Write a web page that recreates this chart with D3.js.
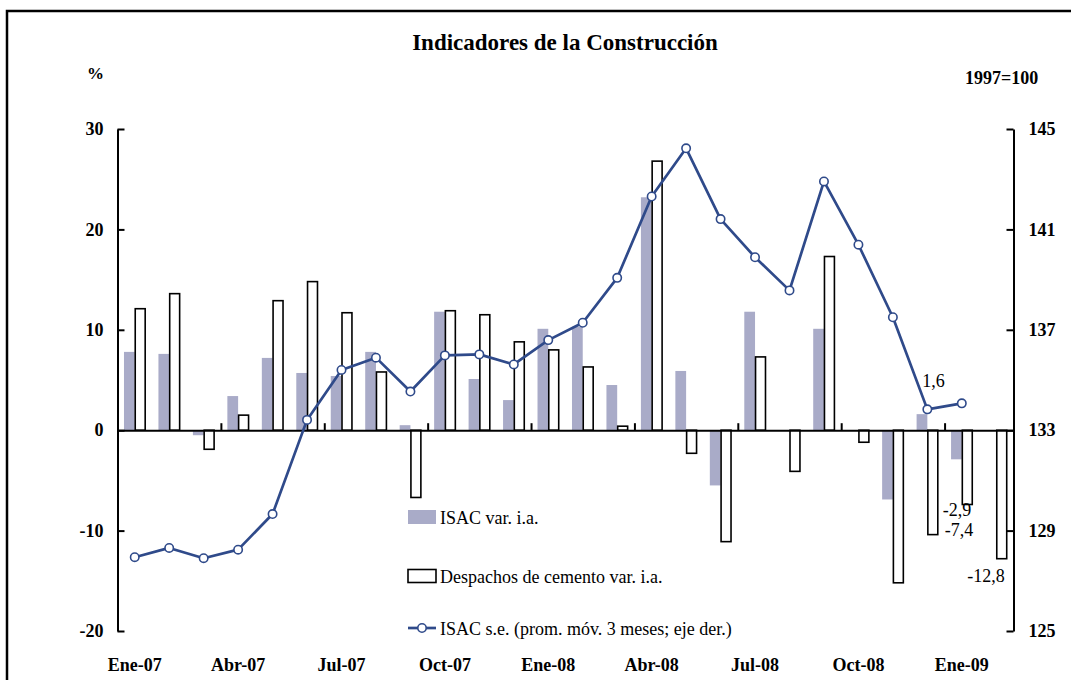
<!DOCTYPE html>
<html>
<head>
<meta charset="utf-8">
<script src="https://cdn.jsdelivr.net/npm/d3@7"></script>
<style>
  body { margin: 0; background: #fff; }
  svg { display: block; font-family: "Liberation Serif", "Times New Roman", serif; }
</style>
</head>
<body>
<div id="chart"></div>
<script>
// Indicadores de la Construcción
let months = ["Ene-07", "Feb-07", "Mar-07", "Abr-07", "May-07", "Jun-07", "Jul-07", "Ago-07", "Sep-07",
    "Oct-07", "Nov-07", "Dic-07", "Ene-08", "Feb-08", "Mar-08", "Abr-08", "May-08", "Jun-08",
    "Jul-08", "Ago-08", "Sep-08", "Oct-08", "Nov-08", "Dic-08", "Ene-09", "Feb-09"];

// ISAC var. i.a. (%)
let isacVar = [7.8, 7.6, -0.5, 3.4, 7.2, 5.7, 5.4, 7.8, 0.5, 11.8, 5.1, 3.0, 10.1, 10.3, 4.5, 23.2, 5.9,
    -5.5, 11.8, 0, 10.1, 0, -6.9, 1.6, -2.9, null];

// Despachos de cemento var. i.a. (%)
let cementoVar = [12.1, 13.6, -1.9, 1.5, 12.9, 14.8, 11.7, 5.8, -6.7, 11.9, 11.5, 8.8, 8.0, 6.3, 0.4, 26.8,
    -2.3, -11.1, 7.3, -4.1, 17.3, -1.2, -15.2, -10.4, -7.4, -12.8];

// ISAC s.e. prom. móv. 3 meses (1997=100, eje der.)
let isacSe = [127.94, 128.31, 127.90, 128.24, 129.66, 133.41, 135.40, 135.89, 134.54, 135.98, 136.02,
    135.62, 136.59, 137.28, 139.07, 142.31, 144.23, 141.41, 139.89, 138.57, 142.91, 140.39, 137.50,
    133.83, 134.07, null];

let leftTicks = [-20, -10, 0, 10, 20, 30];
let rightTicks = [125, 129, 133, 137, 141, 145];
let xLabels = ["Ene-07", "Abr-07", "Jul-07", "Oct-07", "Ene-08", "Abr-08", "Jul-08", "Oct-08", "Ene-09"];

let legendItems = ["ISAC var. i.a.", "Despachos de cemento var. i.a.", "ISAC s.e. (prom. móv. 3 meses; eje der.)"];

let grayColor = "#a9abc8";
let lineColor = "#2f4a8a";

let width = 1071, height = 680;
let svg = d3.select("#chart").append("svg")
    .attr("width", width)
    .attr("height", height);

// frame
svg.append("rect")
    .attr("x", 7).attr("y", 11)
    .attr("width", 1100).attr("height", 720)
    .attr("fill", "none")
    .attr("stroke", "#000")
    .attr("stroke-width", 2.5);

let plotLeft = 117.5, plotRight = 1013.5, plotTop = 129, plotBottom = 631;

let x = d3.scaleBand().domain(months).range([plotLeft, plotRight]).padding(0);
let bw = x.bandwidth();
let barW = 10.75;
let off = (bw - 2 * barW) / 2;
let xIdx = d3.scaleLinear().domain([0, months.length]).range([plotLeft, plotRight]);

let y0 = d3.scaleLinear().domain([-20, 30]).range([plotBottom, plotTop]);
let y1 = d3.scaleLinear().domain([125, 145]).range([plotBottom, plotTop]);

// hyphen instead of unicode minus, comma decimals
let intFmt = v => String(v);
let fmt = v => v.toFixed(1).replace(".", ",");

// title and units
svg.append("text")
    .attr("x", 565).attr("y", 50)
    .attr("text-anchor", "middle")
    .style("font-size", "23px").style("font-weight", "bold")
    .text("Indicadores de la Construcción");

svg.append("text")
    .attr("x", 87).attr("y", 79)
    .style("font-size", "17px").style("font-weight", "bold")
    .text("%");

svg.append("text")
    .attr("x", 965).attr("y", 84)
    .style("font-size", "18px").style("font-weight", "bold")
    .text("1997=100");

// bars
let isacData = months.map((m, i) => ({ m: m, v: isacVar[i] })).filter(d => d.v != null);
let cemData = months.map((m, i) => ({ m: m, v: cementoVar[i] })).filter(d => d.v != null);

svg.append("g").selectAll("rect")
    .data(isacData)
    .enter().append("rect")
    .attr("x", d => x(d.m) + off)
    .attr("width", barW)
    .attr("y", d => Math.min(y0(d.v), y0(0)))
    .attr("height", d => Math.abs(y0(d.v) - y0(0)))
    .attr("fill", grayColor);

svg.append("g").selectAll("rect")
    .data(cemData)
    .enter().append("rect")
    .attr("x", d => x(d.m) + off + barW + 0.5)
    .attr("width", barW - 0.8)
    .attr("y", d => Math.min(y0(d.v), y0(0)))
    .attr("height", d => Math.abs(y0(d.v) - y0(0)))
    .attr("fill", "#fff")
    .attr("stroke", "#000")
    .attr("stroke-width", 1.6);

// zero axis with quarterly ticks
svg.append("g")
    .attr("transform", `translate(0,${y0(0)})`)
    .call(d3.axisTop(xIdx).tickValues([3, 6, 9, 12, 15, 18, 21, 24]).tickSize(7).tickSizeOuter(0).tickFormat(""))
    .call(g => g.selectAll("path, line").attr("stroke", "#000").attr("stroke-width", 2));

// month labels
svg.append("g")
    .attr("transform", `translate(0,658)`)
    .call(d3.axisBottom(x).tickValues(xLabels).tickSize(0).tickPadding(0))
    .call(g => g.select(".domain").remove())
    .call(g => g.selectAll("text")
        .attr("fill", "#000")
        .style("font-family", "'Liberation Serif', 'Times New Roman', serif")
        .style("font-size", "18px")
        .style("font-weight", "bold"));

// left axis
svg.append("g")
    .attr("transform", `translate(${plotLeft},0)`)
    .call(d3.axisLeft(y0).tickValues(leftTicks).tickSize(-7).tickSizeOuter(0).tickPadding(14).tickFormat(intFmt))
    .call(g => g.selectAll("path, line").attr("stroke", "#000").attr("stroke-width", 2))
    .call(g => g.selectAll("text")
        .attr("fill", "#000")
        .style("font-family", "'Liberation Serif', 'Times New Roman', serif")
        .style("font-size", "18px")
        .style("font-weight", "bold"));

// right axis
svg.append("g")
    .attr("transform", `translate(${plotRight},0)`)
    .call(d3.axisRight(y1).tickValues(rightTicks).tickSize(-7).tickSizeOuter(0).tickPadding(15).tickFormat(intFmt))
    .call(g => g.selectAll("path, line").attr("stroke", "#000").attr("stroke-width", 2))
    .call(g => g.selectAll("text")
        .attr("fill", "#000")
        .style("font-family", "'Liberation Serif', 'Times New Roman', serif")
        .style("font-size", "18px")
        .style("font-weight", "bold"));

// ISAC s.e. line
let lineData = months.map((m, i) => ({ m: m, v: isacSe[i] })).filter(d => d.v != null);
let line = d3.line()
    .x(d => x(d.m) + bw / 2)
    .y(d => y1(d.v));

svg.append("path")
    .datum(lineData)
    .attr("d", line)
    .attr("fill", "none")
    .attr("stroke", lineColor)
    .attr("stroke-width", 2.7)
    .attr("stroke-linejoin", "round");

svg.append("g").selectAll("circle")
    .data(lineData)
    .enter().append("circle")
    .attr("cx", d => x(d.m) + bw / 2)
    .attr("cy", d => y1(d.v))
    .attr("r", 4.2)
    .attr("fill", "#fff")
    .attr("stroke", lineColor)
    .attr("stroke-width", 1.6);

// data labels
let iDic = months.indexOf("Dic-08"), iEne = months.indexOf("Ene-09"), iFeb = months.indexOf("Feb-09");
let labels = [
    { x: x("Dic-08") + bw / 2 - 5, y: y0(isacVar[iDic]) - 27, t: fmt(isacVar[iDic]) },
    { x: x("Ene-09") + bw / 2 - 19, y: y0(isacVar[iEne]) + 57, t: fmt(isacVar[iEne]) },
    { x: x("Ene-09") + bw / 2 - 17, y: y0(cementoVar[iEne]) + 32, t: fmt(cementoVar[iEne]) },
    { x: x("Feb-09") + bw / 2 - 29, y: y0(cementoVar[iFeb]) + 23, t: fmt(cementoVar[iFeb]) }
];
svg.append("g").selectAll("text")
    .data(labels)
    .enter().append("text")
    .attr("x", d => d.x)
    .attr("y", d => d.y)
    .style("font-size", "18px")
    .text(d => d.t);

// legend
let legend = svg.append("g").attr("transform", "translate(408,0)");
let legY = [517, 576, 628];

legend.append("rect")
    .attr("x", 0).attr("y", legY[0] - 7)
    .attr("width", 28).attr("height", 14)
    .attr("fill", grayColor);

legend.append("rect")
    .attr("x", 0).attr("y", legY[1] - 6.5)
    .attr("width", 28).attr("height", 13)
    .attr("fill", "#fff")
    .attr("stroke", "#000")
    .attr("stroke-width", 1.6);

legend.append("line")
    .attr("x1", 0).attr("x2", 28)
    .attr("y1", legY[2]).attr("y2", legY[2])
    .attr("stroke", lineColor)
    .attr("stroke-width", 2.7);

legend.append("circle")
    .attr("cx", 14).attr("cy", legY[2])
    .attr("r", 4.2)
    .attr("fill", "#fff")
    .attr("stroke", lineColor)
    .attr("stroke-width", 1.6);

legend.selectAll(".leg-text")
    .data(legendItems)
    .enter().append("text")
    .attr("class", "leg-text")
    .attr("x", 32)
    .attr("y", (d, i) => legY[i] + 6.5)
    .style("font-size", "18px")
    .text(d => d);
</script>
</body>
</html>
